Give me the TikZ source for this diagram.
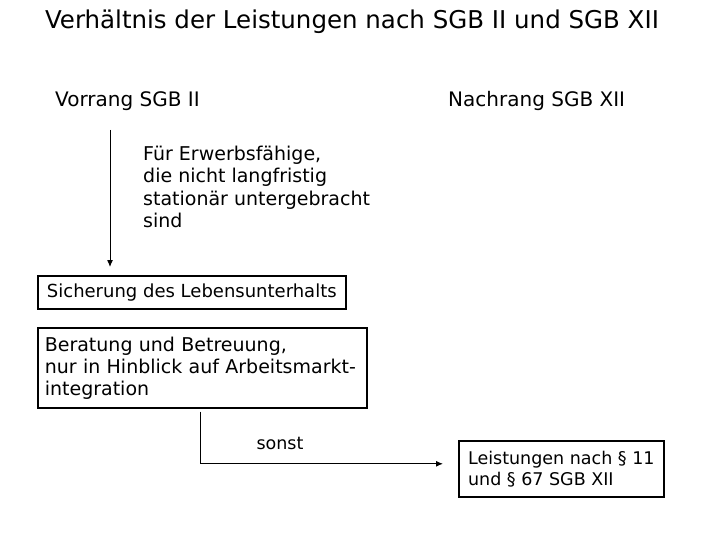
\documentclass[tikz,border=0pt]{standalone}
\usepackage{fontspec}
\setmainfont{DejaVu Sans}
\usetikzlibrary{positioning,arrows.meta}
\tikzset{
    plain text/.style={inner sep=0pt,anchor=west,align=left,font=\fontsize{20}{22}\selectfont},
    small text/.style={plain text,font=\fontsize{19}{22.3}\selectfont},
    frame box/.style={draw,line width=1.6pt,anchor=north west,inner xsep=7pt,inner ysep=0pt,align=left,
        font=\fontsize{18}{22}\selectfont},
    flow arrow/.style={line width=1pt,-{Latex[length=7pt,width=6pt]}}
}
\begin{document}
\begin{tikzpicture}[x=1pt,y=-1pt]
\useasboundingbox (0,0) rectangle (720,540);

% ========= Headings =========
\node[plain text,anchor=center,font=\fontsize{24.5}{28}\selectfont] (title) at (352,22) {Verhältnis der Leistungen nach SGB II und SGB XII};
\node[plain text] (vorrang) at (55,101) {Vorrang SGB II};
\node[plain text] (nachrang) at (448,101) {Nachrang SGB XII};

% ========= Condition =========
\node[small text,anchor=north west] (bedingung) at (143,146) {Für Erwerbsfähige,\\die nicht langfristig\\stationär untergebracht\\sind};

% ========= Boxes =========
\node[frame box,minimum width=308pt,minimum height=33pt] (sicherung) at (37,275) {Sicherung des Lebensunterhalts};
\node[frame box,minimum width=329pt,minimum height=80pt,text width=315pt,
    font=\fontsize{19}{22}\selectfont] (beratung) at (37,327) {Beratung und Betreuung,\\nur in Hinblick auf Arbeitsmarkt-\\integration};
\node[frame box,minimum width=205pt,minimum height=56pt,inner xsep=8pt,
    font=\fontsize{17.5}{21}\selectfont] (leistungen) at (458,440) {Leistungen nach § 11\\und § 67 SGB XII};
\node[small text,anchor=center,font=\fontsize{17.5}{21}\selectfont] (sonst) at (280,443) {sonst};

% ========= Connectors =========
\coordinate (start) at (110,130);
\draw[flow arrow,shorten >=8pt] (start) -- (start |- sicherung.north);
\coordinate (abzweig) at ([xshift=163pt,yshift=-3pt]beratung.south west);
\draw[flow arrow,shorten >=15pt] (abzweig) |- ([yshift=5pt]leistungen.west);

\end{tikzpicture}
\end{document}
